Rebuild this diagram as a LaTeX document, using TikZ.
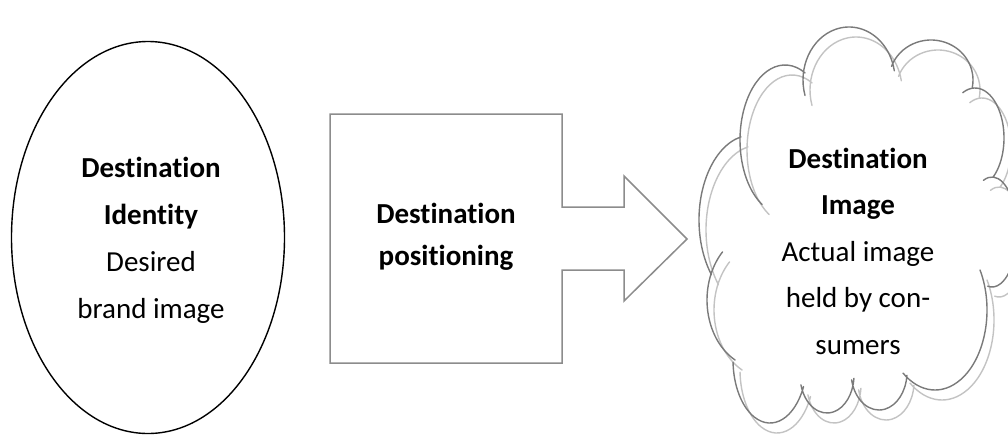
\documentclass[tikz,border=0pt]{standalone}
\usepackage{fontspec}
\setmainfont{Carlito}[Ligatures=NoCommon]
\usetikzlibrary{shapes.geometric}

\definecolor{boxgray}{RGB}{140,140,140}
\definecolor{clouddark}{RGB}{122,122,122}
\definecolor{cloudlight}{RGB}{195,195,195}

% one puff of the cloud: centre (#1,#2), radii #3/#4, angles #5 -> #6 (y grows downwards)
\newcommand\cloudarc[6]{([shift={(#5:#3 and #4)}]#1,#2) arc[start angle=#5, end angle=#6, x radius=#3, y radius=#4]}
\newcommand\cloudoutline{%
  \cloudarc{752}{220}{53}{85}{-102}{-220}
  \cloudarc{785}{140}{45}{75}{-63.6}{-239.3}
  \cloudarc{849}{80}{46}{53}{-197}{-10}
  \cloudarc{931}{80}{42}{40}{-160}{10}
  \cloudarc{975}{138}{29}{50}{-115}{50}
  \cloudarc{992}{232}{25}{55}{-110}{100}
  \cloudarc{935}{310}{52}{80}{-30}{128}
  \cloudarc{879}{372}{28}{38}{168}{5}
  \cloudarc{827}{375}{27}{38}{165}{5}
  \cloudarc{770}{360}{37}{63}{25}{178}
  \cloudarc{760}{300}{53}{68}{118}{225}
}

\tikzset{
  lbl/.style={align=center, font=\fontsize{29}{47}\selectfont, inner sep=0pt},
  arrowbox/.style={draw=boxgray, line width=1.5pt, line join=miter},
  darkpuff/.style={draw=clouddark, line width=1.4pt, line cap=round},
  lightpuff/.style={draw=cloudlight, line width=1.4pt, line cap=round}
}

\begin{document}
\begin{tikzpicture}[x=1pt, y=1pt, yscale=-1]
  \useasboundingbox (0,0) rectangle (1008,434);

  % identity ellipse
  \node[draw, ellipse, line width=1.4pt, minimum width=273pt, minimum height=392pt, inner sep=0pt]
    (ident) at (148,237.5) {};
  \node[lbl] (identtxt) at (151,240)
    {\textbf{Destination}\\\textbf{Identity}\\Desired\\brand image};

  % positioning block arrow
  \coordinate (b1) at (330,114);
  \coordinate (b2) at (562,114);
  \coordinate (b3) at (562,207);
  \coordinate (b4) at (624,207);
  \coordinate (b5) at (624,176);
  \coordinate (tip) at (687,239);
  \coordinate (b6) at (624,301);
  \coordinate (b7) at (624,270);
  \coordinate (b8) at (562,270);
  \coordinate (b9) at (562,363);
  \coordinate (b10) at (330,363);
  \draw[arrowbox] (b1) -- (b2) -- (b3) -- (b4) -- (b5) -- (tip) -- (b6) -- (b7)
    -- (b8) -- (b9) -- (b10) -- cycle;
  \node[lbl, font=\fontsize{29}{42}\selectfont\bfseries] (pos) at (446,237)
    {Destination\\positioning};

  % image cloud: pale copy behind, darker outline in front
  \begin{scope}[shift={(7,10)}]
    \draw[lightpuff] \cloudoutline;
  \end{scope}
  \draw[darkpuff] \cloudoutline;
  \node[lbl, font=\fontsize{29}{46.5}\selectfont] (img) at (858,251)
    {\textbf{Destination}\\\textbf{Image}\\Actual image\\held by con-\\sumers};
\end{tikzpicture}
\end{document}
